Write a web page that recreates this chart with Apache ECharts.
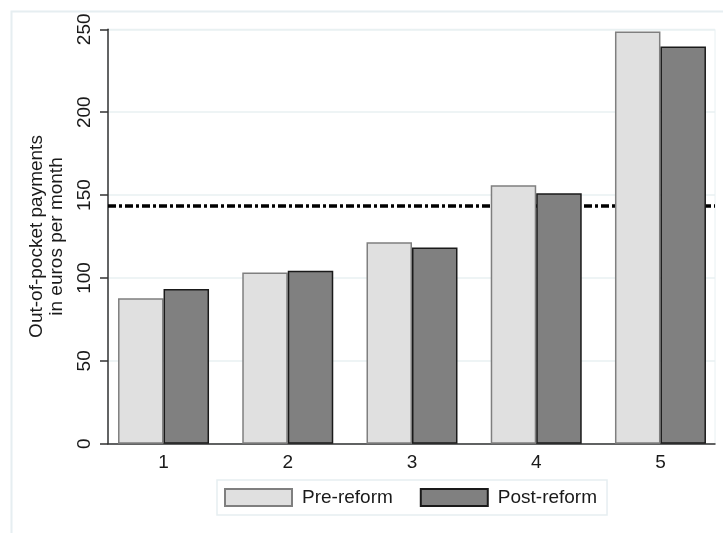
<!DOCTYPE html>
<html>
<head>
<meta charset="utf-8">
<script src="https://cdn.jsdelivr.net/npm/echarts@6/dist/echarts.min.js"></script>
<style>html,body{margin:0;padding:0;background:#fff;}#c{width:723px;height:533px;}</style>
</head>
<body>
<div id="c"></div>
<script>
var categories = ['1', '2', '3', '4', '5'];
var preReform = [87.7, 103.3, 121.5, 155.9, 248.6];
var postReform = [93.4, 104.3, 118.3, 151.1, 239.6];
var averageLine = 143.4;
var yTicks = [0, 50, 100, 150, 200, 250];

var positions = categories.map(function (c, i) { return i + 1; });
var FONT = 'Liberation Sans, Arial, sans-serif';
var chart = echarts.init(document.getElementById('c'), null, {renderer: 'canvas'});
chart.setOption({
  animation: false,
  backgroundColor: '#ffffff',
  graphic: [{
    type: 'rect', left: 9, top: 9, z: -10, silent: true,
    shape: {width: 800, height: 600},
    style: {fill: 'none', stroke: '#e6eef1', lineWidth: 2}
  }],
  grid: {left: 108, top: 29.3, right: 8, bottom: 89.3, show: true, borderColor: '#e8f0f2', borderWidth: 1},
  legend: {
    left: 217, top: 480,
    itemWidth: 67, itemHeight: 17, itemGap: 27,
    padding: [8, 10, 8, 7],
    borderColor: '#e6eef1', borderWidth: 1.5,
    textStyle: {fontFamily: FONT, fontSize: 19, color: '#1a1a1a', padding: [0, 0, 0, 5]},
    data: [
      {name: 'Pre-reform', icon: 'rect'},
      {name: 'Post-reform', icon: 'rect'}
    ]
  },
  xAxis: {
    type: 'value',
    min: 0.553, max: 5.439,
    splitLine: {show: false},
    axisLine: {show: true, lineStyle: {color: '#333', width: 1.5}},
    axisTick: {show: false},
    axisLabel: {
      customValues: positions,
      formatter: function (v) { return categories[Math.round(v) - 1] || ''; },
      fontFamily: FONT, fontSize: 19, color: '#1a1a1a', margin: 10
    }
  },
  yAxis: {
    type: 'value', min: 0, max: 250, interval: 50,
    name: 'Out-of-pocket payments\nin euros per month',
    nameLocation: 'middle', nameGap: 40,
    nameTextStyle: {fontFamily: FONT, fontSize: 19, color: '#1a1a1a', lineHeight: 20},
    axisLine: {show: true, lineStyle: {color: '#333', width: 1.5}},
    axisTick: {show: true, length: 8, lineStyle: {color: '#333', width: 1.5}},
    axisLabel: {
      rotate: 90, fontFamily: FONT, fontSize: 19, color: '#1a1a1a', margin: 14,
      formatter: function (v) { return yTicks.indexOf(v) >= 0 ? String(v) : ''; }
    },
    splitLine: {show: true, lineStyle: {color: '#e8f0f2', width: 1.5}}
  },
  series: [
    {
      name: 'Pre-reform', type: 'bar', z: 3,
      barWidth: 45.5, barGap: '0%',
      itemStyle: {color: '#e0e0e0', borderColor: '#7f7f7f', borderWidth: 1.5},
      data: preReform.map(function (v, i) { return [positions[i], v]; }),
      markLine: {
        z: 1, silent: true, symbol: 'none',
        label: {show: false},
        lineStyle: {color: '#000', width: 3.5, type: [8, 3, 3, 3]},
        data: [{yAxis: averageLine}]
      }
    },
    {
      name: 'Post-reform', type: 'bar', z: 3,
      barWidth: 45.5, barGap: '0%',
      itemStyle: {color: '#808080', borderColor: '#1a1a1a', borderWidth: 1.5},
      data: postReform.map(function (v, i) { return [positions[i], v]; })
    }
  ]
});
</script>
</body>
</html>
